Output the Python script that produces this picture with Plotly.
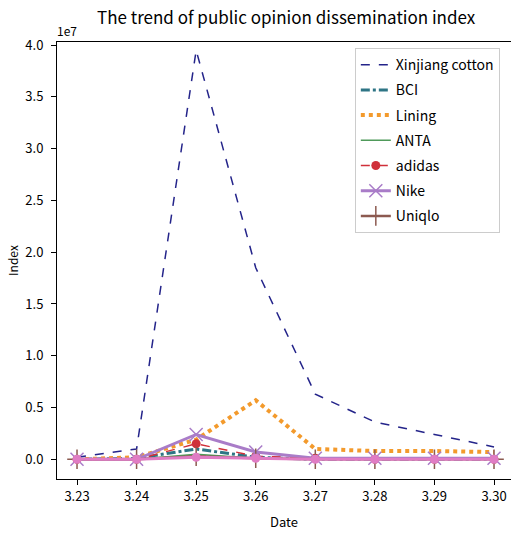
import plotly.graph_objects as go

dates = ["3.23", "3.24", "3.25", "3.26", "3.27", "3.28", "3.29", "3.30"]
xinjiang = [0.02e7, 0.10e7, 3.95e7, 1.85e7, 0.63e7, 0.36e7, 0.24e7, 0.12e7]
bci = [0.0, 0.01e7, 0.10e7, 0.02e7, 0.0, 0.0, 0.0, 0.0]
lining = [0.0, 0.02e7, 0.19e7, 0.57e7, 0.10e7, 0.08e7, 0.08e7, 0.07e7]
anta = [0.0, 0.0, 0.05e7, 0.01e7, 0.0, 0.0, 0.0, 0.0]
adidas = [0.0, 0.0, 0.15e7, 0.03e7, 0.01e7, 0.0, 0.0, 0.0]
nike = [0.0, 0.0, 0.24e7, 0.07e7, 0.01e7, 0.01e7, 0.01e7, 0.01e7]
uniqlo = [0.0, 0.0, 0.03e7, 0.01e7, 0.0, 0.0, 0.0, 0.0]
other = [0.0, 0.0, 0.02e7, 0.01e7, 0.0, 0.0, 0.0, 0.0]

xs = list(range(len(dates)))
FONT = "Noto Sans CJK SC"

fig = go.Figure()
series = [
    ("Xinjiang cotton", xinjiang, dict(color="#24248a", width=1.5, dash="dash"), None),
    ("BCI", bci, dict(color="#2e7585", width=3, dash="dashdot"), None),
    ("Lining", lining, dict(color="#f39a2c", width=4, dash="dot"), None),
    ("ANTA", anta, dict(color="#4f9a5a", width=1.5), None),
    ("adidas", adidas, dict(color="#d0303a", width=1.5, dash="dash"), dict(symbol="circle", size=9, color="#d0303a")),
    ("Nike", nike, dict(color="#a97cc8", width=3), dict(symbol="x-thin", size=13, line=dict(color="#a97cc8", width=1.5))),
    ("Uniqlo", uniqlo, dict(color="#8c5a50", width=2.5), dict(symbol="cross-thin", size=14, line=dict(color="#8c5a50", width=1.5))),
]
for i, (name, vals, line, marker) in enumerate(series):
    fig.add_trace(go.Scatter(
        x=xs, y=vals, name=name, legendgroup=f"g{i}",
        mode="lines+markers" if marker else "lines",
        line=line, marker=marker,
    ))
fig.add_trace(go.Scatter(
    x=xs, y=other, name="", showlegend=False, mode="lines+markers",
    line=dict(color="#e07cc4", width=3),
    marker=dict(symbol="circle", size=9, color="#e07cc4"),
))

fig.update_layout(
    width=511, height=534,
    margin=dict(l=57, r=0, t=42, b=55),
    paper_bgcolor="white", plot_bgcolor="white",
    font=dict(family=FONT, size=13, color="black"),
    title=dict(text="The trend of public opinion dissemination index",
               x=0.56, xanchor="center", y=0.966, yanchor="middle",
               font=dict(family=FONT, size=17)),
    showlegend=True,
    legend=dict(x=0.656, y=0.986, xanchor="left", yanchor="top",
                bordercolor="#cccccc", borderwidth=1, bgcolor="white",
                font=dict(family=FONT, size=14), tracegroupgap=4,
                traceorder="grouped"),
    xaxis=dict(
        range=[-0.336, 7.285], tickmode="array", tickvals=xs, ticktext=dates,
        showgrid=False, zeroline=False, showline=True, linecolor="black",
        linewidth=1, mirror=True, ticks="outside", ticklen=5,
        tickcolor="black", automargin=False,
        title=dict(text="Date", font=dict(family=FONT, size=13), standoff=14),
    ),
    yaxis=dict(
        range=[-0.19e7, 4.03e7], tickmode="array",
        tickvals=[0, 0.5e7, 1e7, 1.5e7, 2e7, 2.5e7, 3e7, 3.5e7, 4e7],
        ticktext=["0.0", "0.5", "1.0", "1.5", "2.0", "2.5", "3.0", "3.5", "4.0"],
        showgrid=False, zeroline=False, showline=True, linecolor="black",
        linewidth=1, mirror=False, ticks="outside", ticklen=5,
        tickcolor="black", automargin=False, ticklabelstandoff=5,
        title=dict(text="Index", font=dict(family=FONT, size=12), standoff=4),
    ),
    annotations=[dict(text="1e7", x=0, y=1, xref="paper", yref="paper",
                      xanchor="left", yanchor="bottom", xshift=-2, yshift=1,
                      showarrow=False, font=dict(family=FONT, size=12))],
)

fig.write_html("out.html", config={"displayModeBar": False},
               post_script="document.body.style.margin='0';document.body.style.overflow='hidden';")
